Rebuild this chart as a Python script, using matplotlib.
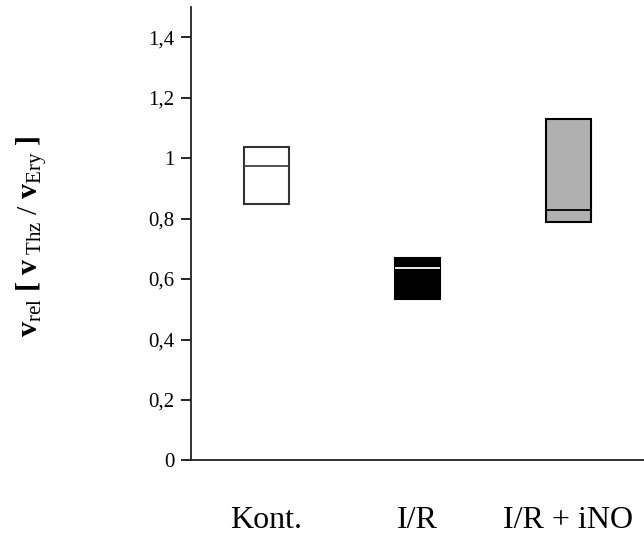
import matplotlib
matplotlib.use("Agg")
import matplotlib.pyplot as plt

# Groups and their box statistics (lower quartile, median, upper quartile)
groups = ["Kont.", "I/R", "I/R + iNO"]
q1 = [0.847, 0.534, 0.789]
median = [0.975, 0.635, 0.827]
q3 = [1.037, 0.669, 1.131]

face_colors = ["white", "black", "#b0b0b0"]
edge_colors = ["#333333", "black", "black"]
median_colors = ["#444444", "white", "black"]

y_ticks = [0, 0.2, 0.4, 0.6, 0.8, 1.0, 1.2, 1.4]
y_tick_labels = ["0", "0,2", "0,4", "0,6", "0,8", "1", "1,2", "1,4"]

plt.rcParams["font.family"] = ["Liberation Serif", "DejaVu Serif"]
plt.rcParams["mathtext.fontset"] = "custom"
plt.rcParams["mathtext.rm"] = "Liberation Serif"
plt.rcParams["mathtext.it"] = "Liberation Serif:italic"
plt.rcParams["mathtext.bf"] = "Liberation Serif:bold"

fig = plt.figure(figsize=(6.44, 5.36), dpi=100)
ax = fig.add_axes([0.2966, 0.141, 0.7034, 0.846])

stats = []
for g, a, m, b in zip(groups, q1, median, q3):
    stats.append({"label": g, "q1": a, "med": m, "q3": b,
                  "whislo": a, "whishi": b, "fliers": []})

positions = [1, 2, 3]
bp = ax.bxp(stats, positions=positions, widths=0.3, patch_artist=True,
            showcaps=False, showfliers=False,
            whiskerprops=dict(linewidth=0))
for patch, fc, ec in zip(bp["boxes"], face_colors, edge_colors):
    patch.set_facecolor(fc)
    patch.set_edgecolor(ec)
    patch.set_linewidth(1.5)
for line, mc in zip(bp["medians"], median_colors):
    line.set_color(mc)
    line.set_linewidth(1.3)

ax.set_xlim(0.5, 3.5)
ax.set_ylim(0, 1.5)
ax.set_yticks(y_ticks)
ax.set_yticklabels(y_tick_labels, fontsize=15)
ax.set_xticks(positions)
ax.set_xticklabels(groups, fontsize=23)
ax.tick_params(axis="x", length=0, pad=33)
ax.tick_params(axis="y", direction="out", length=7, width=1.2, pad=5)

for side in ("top", "right"):
    ax.spines[side].set_visible(False)
for side in ("left", "bottom"):
    ax.spines[side].set_linewidth(1.3)
    ax.spines[side].set_color("#222222")

ax.set_ylabel(r"$\mathbf{v}_{\mathrm{rel}}\ \mathbf{[}\ \mathbf{v}_{\ \mathrm{Thz}}\ /\ \mathbf{v}_{\mathrm{Ery}}\ \mathbf{]}$",
              fontsize=21.5)
ax.yaxis.set_label_coords(-0.312, 0.494)

fig.savefig("out.png", dpi=100)
